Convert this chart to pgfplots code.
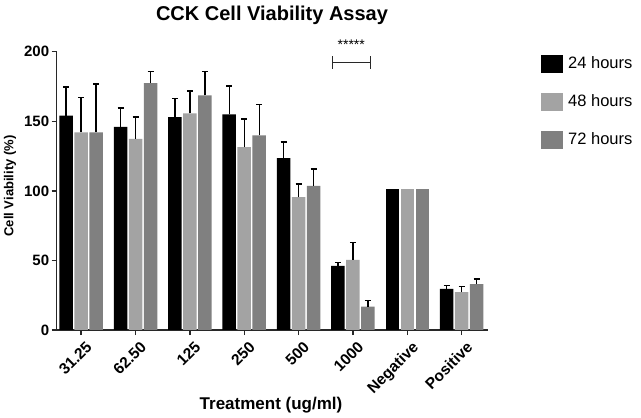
\documentclass[border=0pt]{standalone}
\usepackage{fontspec}
\setmainfont{Liberation Sans}
\usepackage{pgfplots}
\pgfplotsset{compat=1.18}
\definecolor{lg}{RGB}{163,163,163}
\definecolor{dg}{RGB}{128,128,128}
\definecolor{ax}{RGB}{40,40,40}
\begin{document}
\begin{tikzpicture}[x=1pt,y=1pt]
\useasboundingbox (0,0) rectangle (641,418);
\begin{axis}[
 at={(56.7pt,88pt)}, anchor=south west,
 scale only axis, width=431pt, height=278.3pt,
 xmin=-0.45, xmax=7.48, ymin=0, ymax=200,
 axis x line*=bottom, axis y line*=left,
 axis line style={line width=1.6pt, ax},
 tick style={line width=1.4pt, ax},
 major tick length=5pt, tick align=outside,
 xtick={0,1,2,3,4,5,6,7},
 xticklabels={31.25,62.50,125,250,500,1000,Negative,Positive},
 ytick={0,50,100,150,200},
 /pgf/number format/assume math mode=true,
 yticklabel style={font=\bfseries\fontsize{15}{15}\selectfont, xshift=1pt},
 xticklabel style={font=\bfseries\fontsize{15.5}{16}\selectfont, xshift=4pt, yshift=-4pt, rotate=45, anchor=north east, inner sep=1pt},
 ybar, bar width=13.5pt,
 clip=false,
 legend style={draw=none, fill=none, at={(1.1237,0.99)}, anchor=north west,
   inner sep=0pt, font=\fontsize{16.5}{18}\selectfont, row sep=20pt,
   legend cell align=left,
   /tikz/every odd column/.append style={column sep=3pt}},
 legend image code/.code={\fill[#1] (0pt,-9pt) rectangle (22pt,9pt);},
 error bars/y dir=plus, error bars/y explicit,
 error bars/error bar style={line width=1.4pt, black},
 error bars/error mark options={rotate=90, mark size=3pt, line width=1.4pt, black},
]
\addplot[fill=black, draw=none, bar shift=-15pt] coordinates {
 (0,154) +- (0,20.6) (1,146) +- (0,13.4) (2,153) +- (0,13.4) (3,155) +- (0,20.3)
 (4,123.5) +- (0,11.5) (5,46) +- (0,2.4) (7,29.5) +- (0,2.6)};
\addlegendentry{24 hours}
\addplot[fill=lg, draw=none, bar shift=0pt] coordinates {
 (0,142) +- (0,25.2) (1,137.4) +- (0,15.8) (2,155.6) +- (0,16.3) (3,131.4) +- (0,20.2)
 (4,95.5) +- (0,9.3) (5,50.4) +- (0,12.4) (7,27.3) +- (0,3.9)};
\addlegendentry{48 hours}
\addplot[fill=dg, draw=none, bar shift=15pt] coordinates {
 (0,142) +- (0,34.8) (1,177.5) +- (0,8.3) (2,168.6) +- (0,17.2) (3,139.8) +- (0,22.1)
 (4,103.6) +- (0,12.2) (5,16.8) +- (0,4.3) (7,32.9) +- (0,3.8)};
\addlegendentry{72 hours}
\addplot[fill=black, draw=none, bar shift=-15pt, forget plot, error bars/y dir=none] coordinates {(6,101)};
\addplot[fill=lg, draw=none, bar shift=0pt, forget plot, error bars/y dir=none] coordinates {(6,101)};
\addplot[fill=dg, draw=none, bar shift=15pt, forget plot, error bars/y dir=none] coordinates {(6,101)};
\draw[line width=1.4pt, ax] (axis cs:4.62,192.3) -- (axis cs:5.325,192.3);
\draw[line width=1.4pt, ax] (axis cs:4.62,187.8) -- (axis cs:4.62,196.8);
\draw[line width=1.4pt, ax] (axis cs:5.325,187.8) -- (axis cs:5.325,196.8);
\node[font=\fontsize{14}{14}\selectfont, inner sep=0pt] at (axis cs:4.97,205) {*****};
\end{axis}
\node[anchor=base, font=\bfseries\fontsize{20}{20}\selectfont] at (272,397.5) {CCK Cell Viability Assay};
\node[anchor=base, font=\bfseries\fontsize{17}{17}\selectfont] at (271,8) {Treatment (ug/ml)};
\node[rotate=90, font=\bfseries\fontsize{13}{13}\selectfont] at (10,232) {Cell Viability (\%)};
\end{tikzpicture}
\end{document}
